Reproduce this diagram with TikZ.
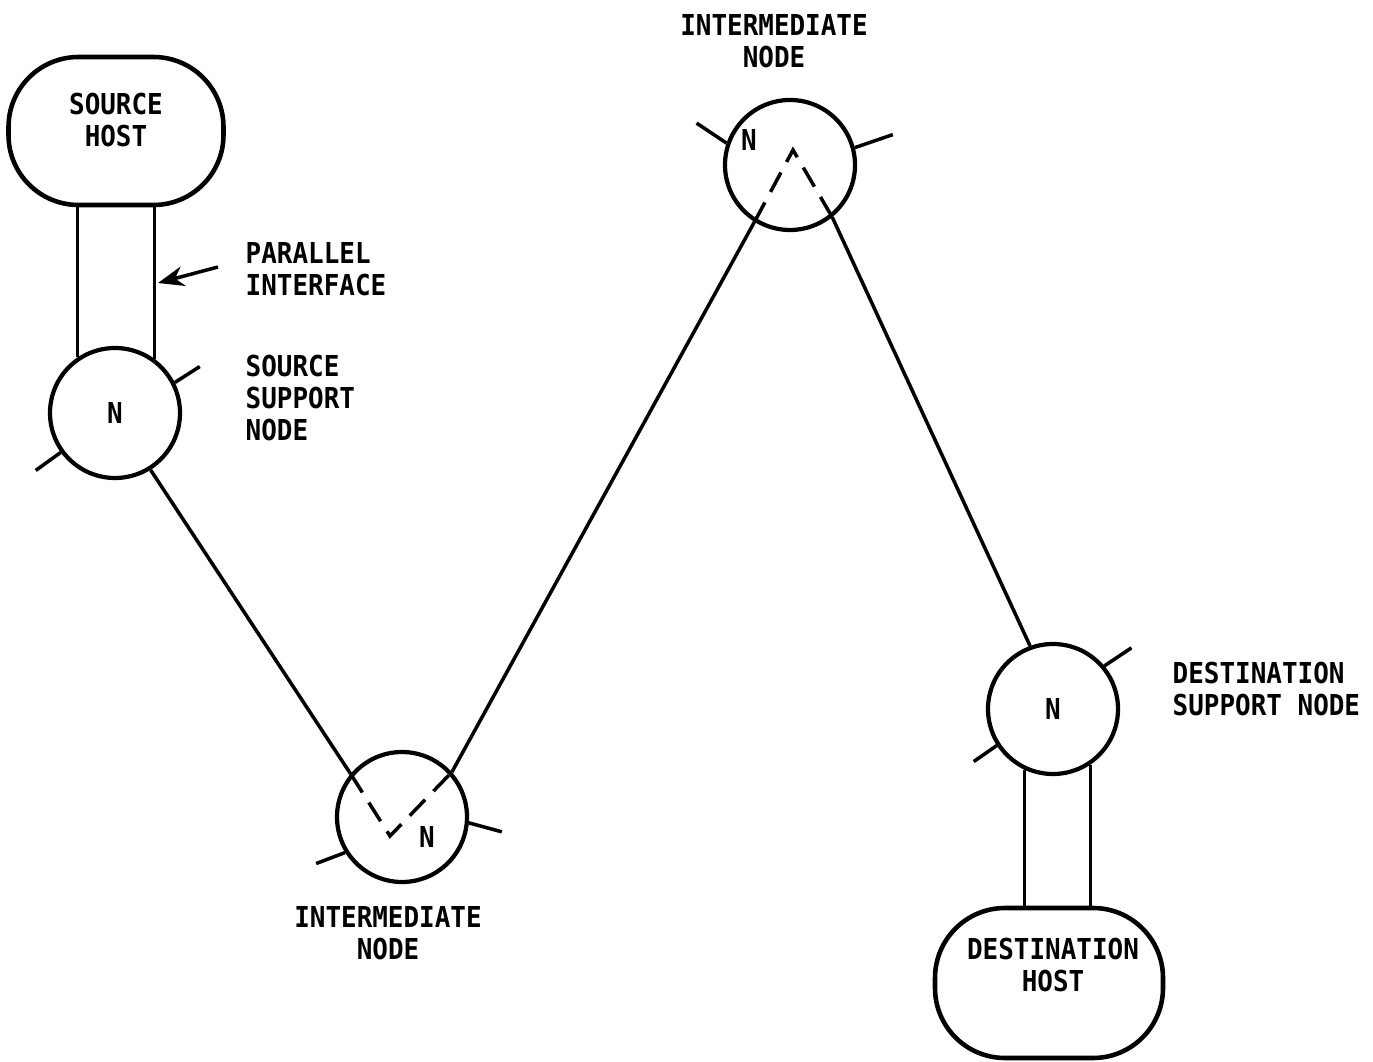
\documentclass[tikz,border=0pt]{standalone}
\usepackage{fontspec}
\newfontfamily\typefont[FakeStretch=0.9]{DejaVu Sans Mono}
\usetikzlibrary{arrows.meta}
\begin{document}
\begin{tikzpicture}[x=0.1mm,y=-0.1mm,
  every node/.style={font=\typefont\bfseries\fontsize{8.2}{9.1}\selectfont},
  imp/.style={draw, circle, line width=1.2pt, minimum size=13mm, inner sep=0pt},
  host/.style={draw, rounded corners=7mm, line width=1.3pt, minimum width=21.5mm, minimum height=14.8mm},
  link/.style={line width=1pt},
  lbl/.style={align=left, inner sep=0pt}]
\useasboundingbox (0,0) rectangle (1373,1062);
\node[host] (srchost) at (116,131) {};
\node[align=center, inner sep=0pt] (srchosttxt) at (116,120) {SOURCE\\HOST};
\node[imp] (srcnode) at (115,413) {N};
\node[imp] (int1) at (402,817) {};
\node (int1n) at (427,837) {N};
\node[imp] (int2) at (790,165) {};
\node (int2n) at (749,140) {N};
\node[imp] (dstnode) at (1053,709) {N};
\node[host, minimum width=22.8mm, minimum height=15mm] (dsthost) at (1049,983) {};
\node[align=center, inner sep=0pt] (dsthosttxt) at (1053,965) {DESTINATION\\HOST};
\node[lbl, anchor=west] (pilabel) at (245,269) {PARALLEL\\INTERFACE};
\node[lbl, anchor=west] (sslabel) at (245,398) {SOURCE\\SUPPORT\\NODE};
\node[align=center, inner sep=0pt] (int1label) at (388,933) {INTERMEDIATE\\NODE};
\node[align=center, inner sep=0pt] (int2label) at (774,41) {INTERMEDIATE\\NODE};
\node[lbl, anchor=west] (dslabel) at (1172,689) {DESTINATION\\SUPPORT NODE};
\coordinate (v1) at (390,836);
\coordinate (v2) at (793,150);
\coordinate (pitip) at (158,283);
\draw[link] (srcnode.124) -- (srcnode.124 |- srchost.south);
\draw[link] (srcnode.54) -- (srcnode.54 |- srchost.south);
\draw[link] (dstnode.245) -- (dstnode.245 |- dsthost.north);
\draw[link] (dstnode.304) -- (dstnode.304 |- dsthost.north);
\draw[link, -{Stealth[length=2.6mm, width=2mm]}] ([xshift=-2.7mm, yshift=0.2mm]pilabel.west) -- (pitip);
\draw[link] (srcnode.302) -- (int1.140);
\draw[link] (int1.42) -- (int2.238);
\draw[link] (int2.309) -- (dstnode.110);
\draw[link, dash pattern=on 2.2mm off 1.2mm] (int1.140) -- (v1) -- (int1.42);
\draw[link, dash pattern=on 2.2mm off 1.2mm] (int2.238) -- (v2) -- (int2.309);
\draw[link] (srcnode.27) -- ++(25,-16);
\draw[link] (srcnode.216) -- ++(-25,18);
\draw[link] (int1.212) -- ++(-29,11);
\draw[link] (int1.355) -- ++(33,9);
\draw[link] (int2.161) -- ++(-30,-20);
\draw[link] (int2.15) -- ++(38,-13);
\draw[link] (dstnode.40) -- ++(27,-18);
\draw[link] (dstnode.213) -- ++(-23,16);
\end{tikzpicture}
\end{document}
